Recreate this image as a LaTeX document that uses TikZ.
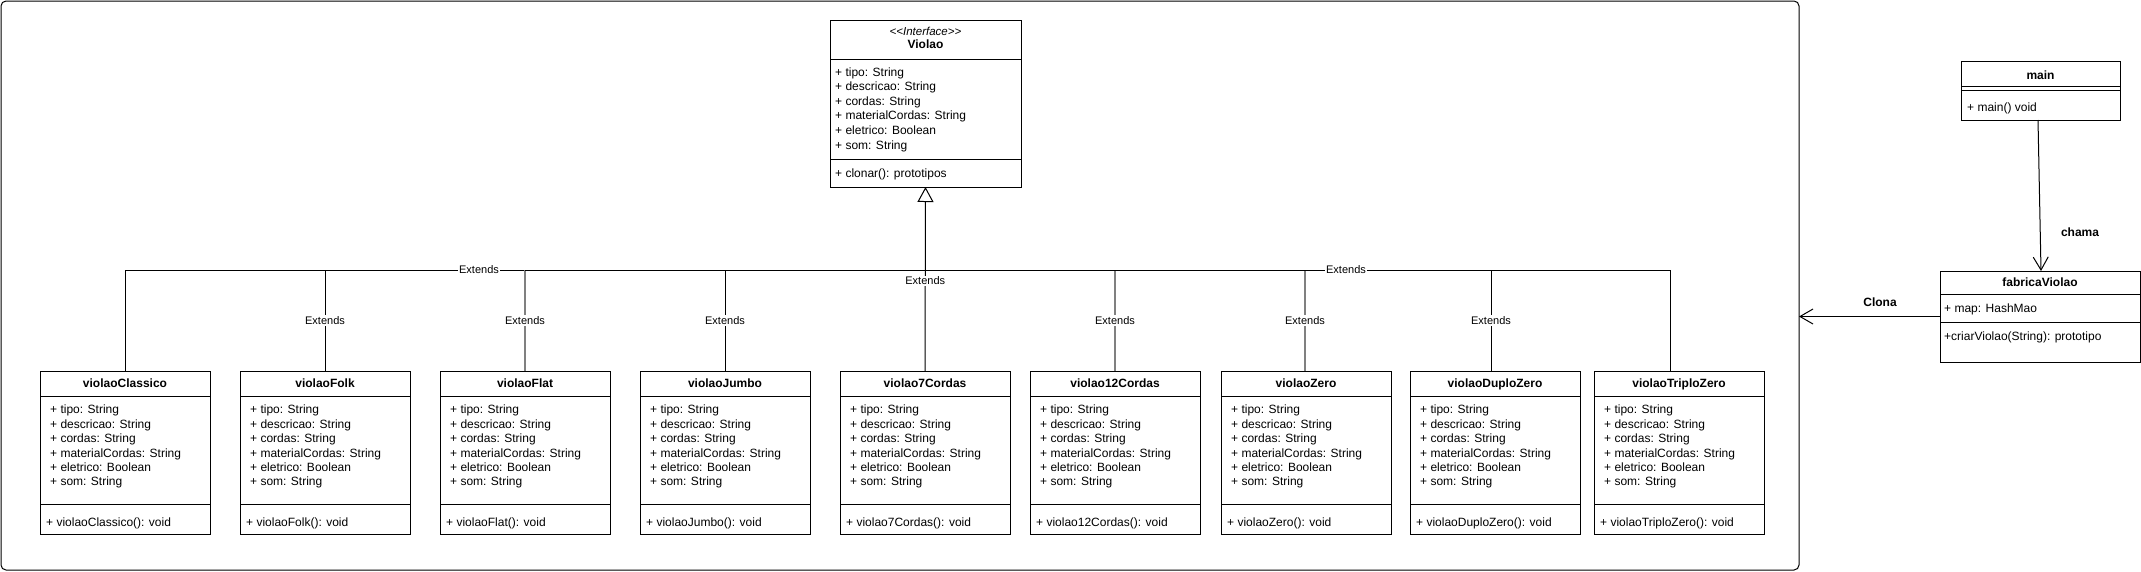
\documentclass[tikz,border=0pt]{standalone}
\usepackage{fontspec}
\setmainfont{Liberation Sans}
\usetikzlibrary{arrows.meta,calc}
\tikzset{
  cbox/.style={draw, line width=1pt, inner sep=0pt, outer sep=0pt, anchor=north west, fill=white},
  ttl/.style={font=\fontsize{12}{14}\selectfont\bfseries, anchor=base, inner sep=0pt},
  attr/.style={font=\fontsize{12}{14}\selectfont, anchor=base west, inner sep=0pt},
  lbl/.style={font=\fontsize{11}{13}\selectfont, fill=white, inner sep=1pt},
  blbl/.style={font=\fontsize{12}{14}\selectfont\bfseries, inner sep=0pt},
  conn/.style={line width=1pt},
  gconn/.style={draw=black!50, line width=1.6pt},
  openarrow/.style={line width=1pt, -{Straight Barb[length=13pt,width=15pt,line width=1pt]}},
  inherit/.style={line width=1pt, -{Triangle[open,length=15pt,width=16pt,line width=1pt,fill=white]}}
}
\newcommand{\mkclass}[4]{%
  \node[cbox, minimum width=170pt, minimum height=163pt] (#1) at (#2,371) {};
  \draw[line width=1pt] (#2,396) -- ++(170,0);
  \draw[line width=1pt] (#2,504) -- ++(170,0);
  \node[ttl] (#1t) at (#2+85,387.6) {#3};
  \foreach \lx [count=\ix from 0] in {+ tipo: String, + descricao: String, + cordas: String, + materialCordas: String, + eletrico: Boolean, + som: String}
    \node[attr] at (#2+10,413.7+14.45*\ix) {\lx};
  \node[attr] (#1m) at (#2+6,526) {#4};
}
\begin{document}
\begin{tikzpicture}[x=1pt,y=-1pt]
\useasboundingbox (0,0) rectangle (2141,571);
\fill[white] (0,0) rectangle (2141,571);
% frame
\node[draw, line width=1pt, rounded corners=5pt, inner sep=0pt, outer sep=0pt, anchor=north west, minimum width=1798pt, minimum height=569pt] (frame) at (1,1) {};

% interface
\node[cbox, minimum width=191pt, minimum height=167pt] (violao) at (830,20) {};
\draw[line width=1pt] (830,59) -- ++(191,0);
\draw[line width=1pt] (830,159) -- ++(191,0);
\node[font=\fontsize{11.5}{13}\selectfont\itshape, anchor=base, inner sep=0pt] (vstereo) at (925.5,35.6) {{<}{<}Interface{>}{>}};
\node[ttl] (vtitle) at (925.5,48.5) {Violao};
\foreach \lx [count=\ix from 0] in {+ tipo: String, + descricao: String, + cordas: String, + materialCordas: String, + eletrico: Boolean, + som: String}
  \node[attr] at (835,76+14.6*\ix) {\lx};
\node[attr] (vmeth) at (835,177) {+ clonar(): prototipos};

% subclasses
\mkclass{cl}{40}{violaoClassico}{+ violaoClassico(): void}
\mkclass{fo}{240}{violaoFolk}{+ violaoFolk(): void}
\mkclass{fl}{440}{violaoFlat}{+ violaoFlat(): void}
\mkclass{ju}{640}{violaoJumbo}{+ violaoJumbo(): void}
\mkclass{c7}{840}{violao7Cordas}{+ violao7Cordas(): void}
\mkclass{c12}{1030}{violao12Cordas}{+ violao12Cordas(): void}
\mkclass{ze}{1221}{violaoZero}{+ violaoZero(): void}
\mkclass{dz}{1410}{violaoDuploZero}{+ violaoDuploZero(): void}
\mkclass{tz}{1594}{violaoTriploZero}{+ violaoTriploZero(): void}

% inheritance bus
\coordinate (bus) at (925,270);
\draw[conn] (cl.north) |- (bus);
\draw[conn] ([xshift=-9pt]tz.north) |- (bus);
\draw[conn] (fo.north) -- node[lbl] {Extends} (fo.north |- bus) -- (bus);
\draw[gconn] (fl.north) -- node[lbl] {Extends} (fl.north |- bus);
\draw[conn] (fl.north |- bus) -- (bus);
\draw[conn] (ju.north) -- node[lbl] {Extends} (ju.north |- bus) -- (bus);
\draw[gconn] (c12.north) -- node[lbl] {Extends} (c12.north |- bus);
\draw[conn] (c12.north |- bus) -- (bus);
\draw[gconn] ([xshift=-1pt]ze.north) -- node[lbl] {Extends} ([xshift=-1pt]ze.north |- bus);
\draw[conn] ([xshift=-1pt]ze.north |- bus) -- (bus);
\draw[conn] ([xshift=-4pt]dz.north) -- node[lbl] {Extends} ([xshift=-4pt]dz.north |- bus) -- (bus);
\draw[inherit] (c7.north) -- node[lbl, pos=0.49] {Extends} (violao.south);
\node[lbl] (ext1) at (479,270) {Extends};
\node[lbl] (ext2) at (1346,270) {Extends};

% main
\node[cbox, minimum width=159pt, minimum height=59pt] (main) at (1961,61) {};
\draw[line width=1pt] (1961,86) -- ++(159,0);
\draw[line width=1pt] (1961,90) -- ++(159,0);
\node[ttl] (maint) at (2040.5,79.3) {main};
\node[attr] (mainm) at (1967,111.5) {+ main() void};

% fabricaViolao
\node[cbox, minimum width=200pt, minimum height=91pt] (fab) at (1940,271) {};
\draw[line width=1pt] (1940,294) -- ++(200,0);
\draw[line width=1pt] (1940,322) -- ++(200,0);
\node[ttl] (fabt) at (2040,286) {fabricaViolao};
\node[attr] (faba) at (1944,312.5) {+ map: HashMao};
\node[attr] (fabm) at (1944,340.3) {+criarViolao(String): prototipo};

% associations
\draw[openarrow] ([xshift=-2.5pt]main.south) -- ([xshift=1pt]fab.north);
\node[blbl] (chama) at (2080,232.7) {chama};
\draw[openarrow] (fab.west) -- (frame.east |- fab.west);
\node[blbl] (clona) at (1880,302.3) {Clona};
\end{tikzpicture}
\end{document}
